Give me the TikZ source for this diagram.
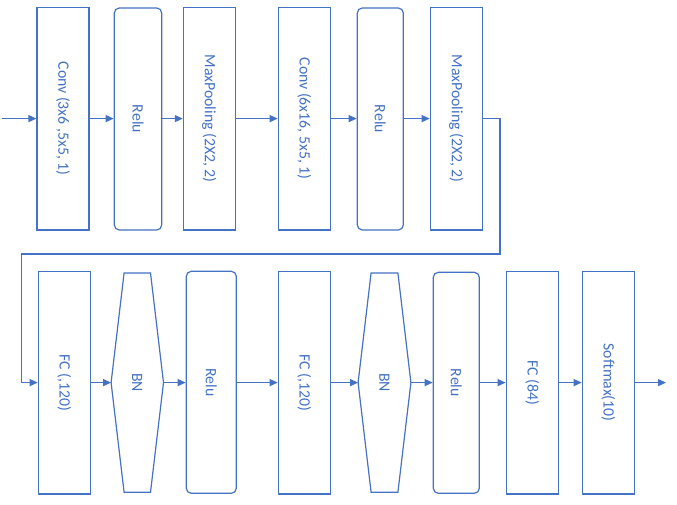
\documentclass[tikz,border=0pt]{standalone}
\usepackage{fontspec}
\setmainfont{Carlito}
\usepackage{graphicx}
\usetikzlibrary{arrows.meta}
\definecolor{netblue}{RGB}{68,114,196}
\tikzset{
	layer/.style={draw=netblue, line width=1.2pt, minimum width=52pt, minimum height=222.7pt, inner sep=0pt, text=netblue, font=\fontsize{15.8}{19}\selectfont},
	relubox/.style={layer, rounded corners=5pt},
	bnlabel/.style={minimum width=52pt, minimum height=219pt, inner sep=0pt, text=netblue, font=\fontsize{15.8}{19}\selectfont},
	flow/.style={draw=netblue, line width=1.2pt, -{Triangle[length=8pt,width=7pt]}}
}
\newcommand{\vtext}[1]{\rotatebox{-90}{#1}}
\begin{document}
\begin{tikzpicture}[x=1pt,y=-1pt]
	\useasboundingbox (0,0) rectangle (677,505);
	\node[layer] (conv1) at (63,118.6) {\vtext{Conv (3x6 ,5x5, 1)}};
	\node[relubox, minimum width=47.4pt, minimum height=222pt] (relu1) at (138,119) {\vtext{Relu}};
	\node[layer] (mp1) at (209.4,118.6) {\vtext{MaxPooling (2X2, 2)}};
	\node[layer] (conv2) at (304.3,118.6) {\vtext{Conv (6x16, 5x5, 1)}};
	\node[relubox, minimum width=46pt, minimum height=222pt] (relu2) at (380.3,119) {\vtext{Relu}};
	\node[layer] (mp2) at (456.3,118.6) {\vtext{MaxPooling (2X2, 2)}};
	\node[layer] (fc1) at (64.3,382.6) {\vtext{FC (,120)}};
	\node[bnlabel] (bn1) at (137.3,382.6) {\vtext{BN}};
	\node[relubox, minimum width=50pt, minimum height=222pt] (relu3) at (211.3,382.3) {\vtext{Relu}};
	\node[layer] (fc2) at (304.3,382.6) {\vtext{FC (,120)}};
	\node[bnlabel, minimum width=52.4pt] (bn2) at (384.5,382.6) {\vtext{BN}};
	\node[relubox, minimum width=46pt, minimum height=221pt] (relu4) at (456.3,382.8) {\vtext{Relu}};
	\node[layer] (fc3) at (532.2,382.6) {\vtext{FC (84)}};
	\node[layer] (sm) at (608.3,382.6) {\vtext{Softmax(10)}};
	\foreach \b in {bn1,bn2}
		\draw[netblue, line width=1.2pt] ([xshift=13pt]\b.north west) -- ([xshift=-13pt]\b.north east) -- (\b.east) -- ([xshift=-13pt]\b.south east) -- ([xshift=13pt]\b.south west) -- (\b.west) -- cycle;
	\coordinate (in) at (2,118.6);
	\coordinate (wrap) at (21.3,254);
	\coordinate (out) at (666,382.6);
	\draw[flow] (in) -- (conv1);
	\draw[flow] (conv1) -- (relu1.west |- conv1);
	\draw[flow] (relu1.east |- conv1) -- (mp1);
	\draw[flow] (mp1) -- (conv2);
	\draw[flow] (conv2) -- (relu2.west |- conv2);
	\draw[flow] (relu2.east |- conv2) -- (mp2);
	\draw[flow] (mp2.east) -- ++(17,0) |- (wrap) |- (fc1.west);
	\draw[flow] (fc1) -- (bn1);
	\draw[flow] (bn1) -- (relu3.west |- bn1);
	\draw[flow] (relu3.east |- bn1) -- (fc2);
	\draw[flow] (fc2) -- (bn2);
	\draw[flow] (bn2) -- (relu4.west |- bn2);
	\draw[flow] (relu4.east |- bn2) -- (fc3);
	\draw[flow] (fc3) -- (sm);
	\draw[flow] (sm) -- (out);
\end{tikzpicture}
\end{document}
